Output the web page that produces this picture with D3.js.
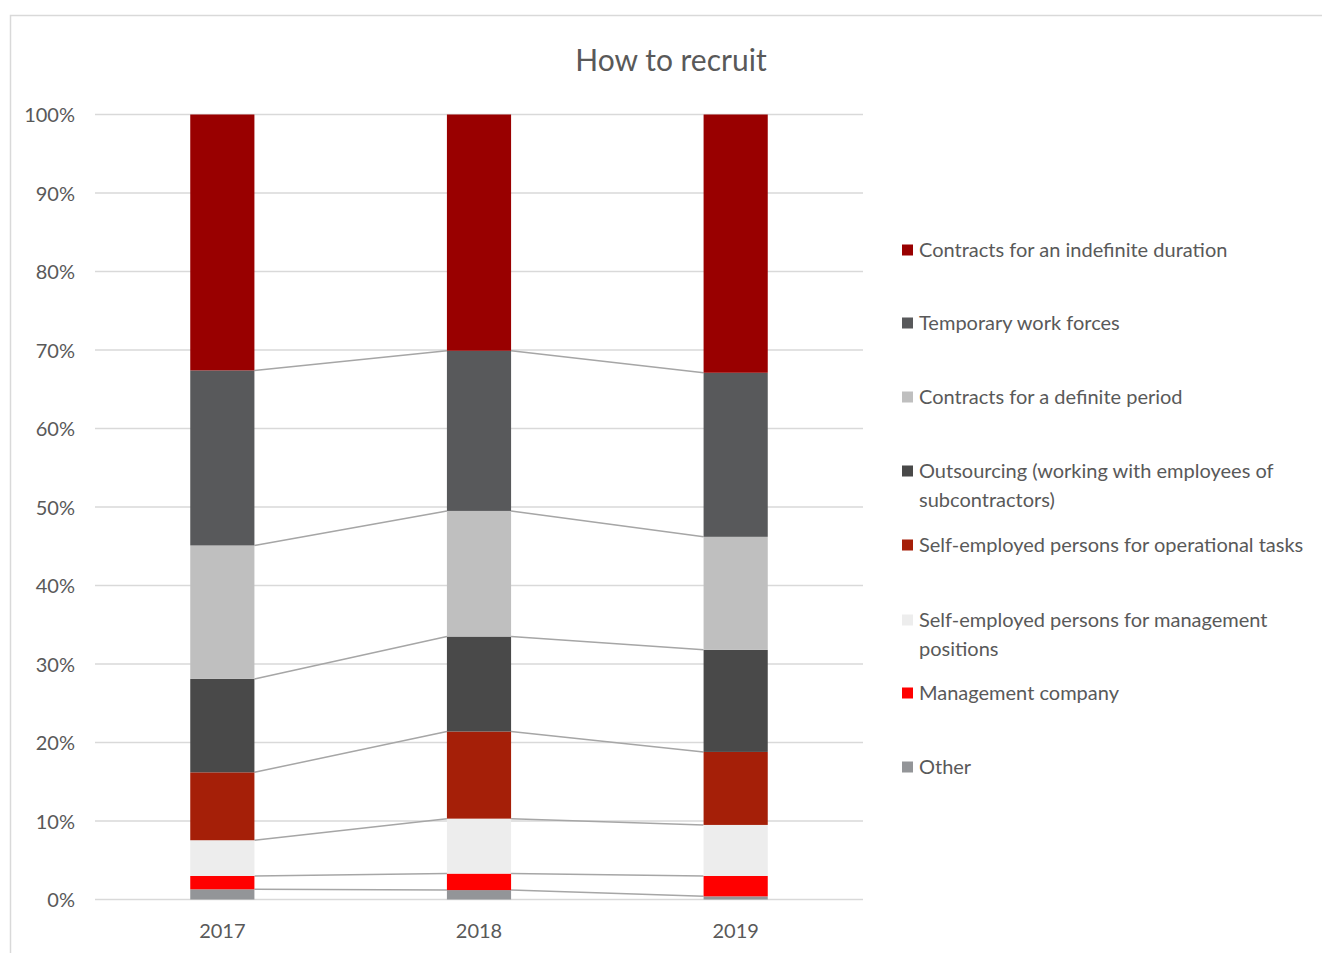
<!DOCTYPE html>
<html>
<head>
<meta charset="utf-8">
<script src="https://cdn.jsdelivr.net/npm/d3@7"></script>
<style>
  html, body { margin: 0; padding: 0; background: #fff; }
  svg text { font-family: Lato, "Open Sans", sans-serif; fill: #595959; }
</style>
</head>
<body>
<svg id="chart" width="1322" height="953"></svg>
<script>
// Share of recruitment methods per year (percent of total, stacked bottom to top)
const years = ["2017", "2018", "2019"];
const seriesNames = [
  "Other",
  "Management company",
  "Self-employed persons for management positions",
  "Self-employed persons for operational tasks",
  "Outsourcing (working with employees of subcontractors)",
  "Contracts for a definite period",
  "Temporary work forces",
  "Contracts for an indefinite duration"
];
const other        = [1.3, 1.2, 0.4];
const mgmtCompany  = [1.7, 2.1, 2.6];
const selfMgmt     = [4.55, 7.0, 6.5];
const selfOps      = [8.65, 11.1, 9.3];
const outsourcing  = [11.9, 12.1, 13.0];
const definite     = [17.0, 16.0, 14.4];
const temporary    = [22.3, 20.4, 20.9];
const indefinite   = [32.6, 30.1, 32.9];
const seriesColors = ["#939598", "#ff0000", "#ededed", "#a51f08", "#494949", "#bfbfbf", "#58595b", "#990000"];
const yTicks = [0, 10, 20, 30, 40, 50, 60, 70, 80, 90, 100];

const seriesValues = [other, mgmtCompany, selfMgmt, selfOps, outsourcing, definite, temporary, indefinite];

// Rows for d3.stack: one per year, one key per series
const rows = years.map((y, i) => {
  const r = { year: y };
  seriesNames.forEach((n, k) => { r[n] = seriesValues[k][i]; });
  return r;
});
const stacked = d3.stack().keys(seriesNames).offset(d3.stackOffsetExpand)(rows);

const svg = d3.select("#chart");

// Outer frame of the chart area
svg.append("path")
  .attr("d", "M10.5,953 V15.5 H1322")
  .attr("fill", "none")
  .attr("stroke", "#d9d9d9")
  .attr("stroke-width", 1.5);

const x = d3.scaleBand().domain(years).range([94, 864]).paddingInner(0.75).paddingOuter(0.375);
const y = d3.scaleLinear().domain([0, 1]).range([899.5, 114.5]);

// Gridlines
svg.append("g").selectAll("line").data(yTicks).join("line")
  .attr("x1", 95).attr("x2", 863)
  .attr("y1", d => y(d / 100)).attr("y2", d => y(d / 100))
  .attr("stroke", "#d9d9d9").attr("stroke-width", 1.5);

// Y axis labels
const yAxis = d3.axisLeft(y).tickValues(yTicks.map(d => d / 100))
  .tickFormat(d3.format(".0%")).tickSize(0).tickPadding(0);
const gy = svg.append("g").attr("transform", "translate(75,0)").call(yAxis);
gy.select(".domain").remove();
gy.selectAll("text").attr("font-size", 20).attr("dy", "0.35em").attr("fill", "#595959")
  .style("font-family", "Lato, 'Open Sans', sans-serif");

// X axis labels
const xAxis = d3.axisBottom(x).tickSize(0).tickPadding(0);
const gx = svg.append("g").attr("transform", "translate(0,924)").call(xAxis);
gx.select(".domain").remove();
gx.selectAll("text").attr("font-size", 20).attr("fill", "#595959")
  .style("font-family", "Lato, 'Open Sans', sans-serif");

// Series connector lines between bar tops
stacked.forEach((s, k) => {
  if (k === stacked.length - 1) return;
  for (let i = 0; i < years.length - 1; i++) {
    svg.append("line")
      .attr("x1", x(years[i]) + x.bandwidth())
      .attr("x2", x(years[i + 1]))
      .attr("y1", y(s[i][1]))
      .attr("y2", y(s[i + 1][1]))
      .attr("stroke", "#a6a6a6")
      .attr("stroke-width", 1.5);
  }
});

// Stacked bars
svg.append("g").selectAll("g").data(stacked).join("g")
  .attr("fill", (d, k) => seriesColors[k])
  .selectAll("rect").data(d => d).join("rect")
  .attr("x", d => x(d.data.year))
  .attr("width", x.bandwidth())
  .attr("y", d => y(d[1]))
  .attr("height", d => y(d[0]) - y(d[1]));

// Title
svg.append("text")
  .attr("x", 671).attr("y", 71)
  .attr("text-anchor", "middle")
  .attr("font-size", 30)
  .text("How to recruit");

// Legend, listed top-down in reverse stacking order
const legendItems = [
  { k: 7, lines: ["Contracts for an indefinite duration"], y: 250 },
  { k: 6, lines: ["Temporary work forces"], y: 323 },
  { k: 5, lines: ["Contracts for a definite period"], y: 397 },
  { k: 4, lines: ["Outsourcing (working with employees of", "subcontractors)"], y: 471 },
  { k: 3, lines: ["Self-employed persons for operational tasks"], y: 545 },
  { k: 2, lines: ["Self-employed persons for management", "positions"], y: 620 },
  { k: 1, lines: ["Management company"], y: 693 },
  { k: 0, lines: ["Other"], y: 767 }
];
const lg = svg.append("g");
legendItems.forEach(it => {
  lg.append("rect")
    .attr("x", 902).attr("y", it.y - 5.5)
    .attr("width", 11).attr("height", 11)
    .attr("fill", seriesColors[it.k]);
  const t = lg.append("text").attr("x", 919).attr("y", it.y).attr("font-size", 20);
  it.lines.forEach((ln, j) => {
    t.append("tspan").attr("x", 919).attr("dy", j === 0 ? "0.35em" : 29).text(ln);
  });
});
</script>
</body>
</html>
